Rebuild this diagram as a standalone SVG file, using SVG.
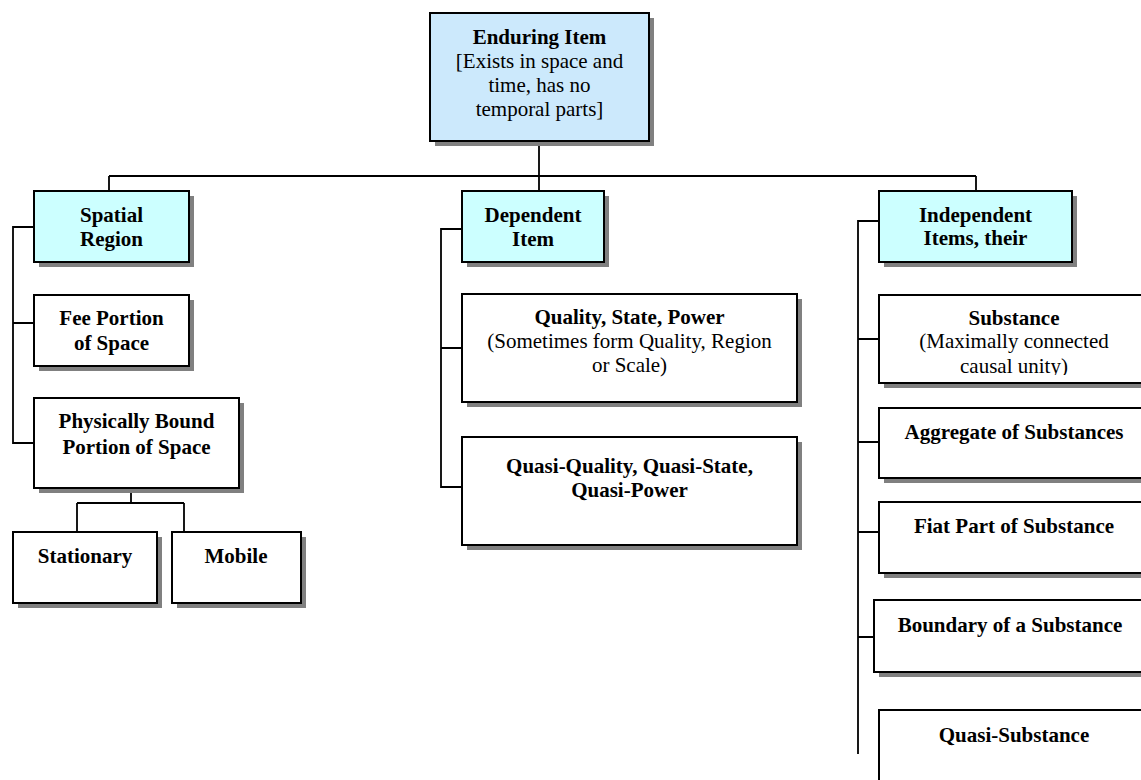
<svg xmlns="http://www.w3.org/2000/svg" width="1141" height="780" viewBox="0 0 1141 780">
<style>
.box{stroke:#000;stroke-width:2;fill:#fff}
.top{fill:#CCE9FC}
.cyan{fill:#CCFFFF}
.sh{fill:#808080}
.ln{stroke:#000;stroke-width:1.8;fill:none}
text{font-family:"Liberation Serif","Times New Roman",serif;font-size:21px;text-anchor:middle;fill:#000}
.b{font-weight:bold}
</style>
<defs>
<clipPath id="clipSub"><rect x="879" y="295" width="270" height="80"/></clipPath>
</defs>
<rect width="1141" height="780" fill="#fff"/>
<g id="connectors">
<path class="ln" d="M539 141V176M109 176H976M109 176V191M539 176V191M976 176V191"/>
<path class="ln" d="M34 227H13V443H34M13 323H34"/>
<path class="ln" d="M131 488V503M77 503H184M77 503V532M184 503V532"/>
<path class="ln" d="M462 229H441V487H462M441 348H462"/>
<path class="ln" d="M879 221H858V754M858 339H879M858 442H879M858 532H879M858 637H874"/>
</g>
<g id="enduring-item">
<rect class="sh" x="435" y="18" width="219" height="128"/>
<rect class="box top" x="430" y="13" width="219" height="128"/>
<text class="b" x="539.5" y="44">Enduring Item</text>
<text x="539.5" y="68">[Exists in space and</text>
<text x="539.5" y="92">time, has no</text>
<text x="539.5" y="116">temporal parts]</text>
</g>
<g id="spatial-region">
<rect class="sh" x="39" y="196" width="155" height="71"/>
<rect class="box cyan" x="34" y="191" width="155" height="71"/>
<text class="b" x="111.5" y="222">Spatial</text>
<text class="b" x="111.5" y="246">Region</text>
</g>
<g id="fee-portion">
<rect class="sh" x="39" y="300" width="155" height="71"/>
<rect class="box" x="34" y="295" width="155" height="71"/>
<text class="b" x="111.5" y="325">Fee Portion</text>
<text class="b" x="111.5" y="350">of Space</text>
</g>
<g id="physically-bound">
<rect class="sh" x="39" y="403" width="205" height="90"/>
<rect class="box" x="34" y="398" width="205" height="90"/>
<text class="b" x="136.5" y="428">Physically Bound</text>
<text class="b" x="136.5" y="454">Portion of Space</text>
</g>
<g id="stationary">
<rect class="sh" x="18" y="537" width="144" height="71"/>
<rect class="box" x="13" y="532" width="144" height="71"/>
<text class="b" x="85" y="563">Stationary</text>
</g>
<g id="mobile">
<rect class="sh" x="177" y="537" width="129" height="71"/>
<rect class="box" x="172" y="532" width="129" height="71"/>
<text class="b" x="236" y="563">Mobile</text>
</g>
<g id="dependent-item">
<rect class="sh" x="467" y="196" width="142" height="71"/>
<rect class="box cyan" x="462" y="191" width="142" height="71"/>
<text class="b" x="533" y="222">Dependent</text>
<text class="b" x="533" y="246">Item</text>
</g>
<g id="quality">
<rect class="sh" x="467" y="299" width="335" height="108"/>
<rect class="box" x="462" y="294" width="335" height="108"/>
<text class="b" x="629.5" y="324">Quality, State, Power</text>
<text x="629.5" y="348">(Sometimes form Quality, Region</text>
<text x="629.5" y="372">or Scale)</text>
</g>
<g id="quasi-quality">
<rect class="sh" x="467" y="442" width="335" height="108"/>
<rect class="box" x="462" y="437" width="335" height="108"/>
<text class="b" x="629.5" y="473">Quasi-Quality, Quasi-State,</text>
<text class="b" x="629.5" y="497">Quasi-Power</text>
</g>
<g id="independent-items">
<rect class="sh" x="884" y="196" width="193" height="71"/>
<rect class="box cyan" x="879" y="191" width="193" height="71"/>
<text class="b" x="975.5" y="222">Independent</text>
<text class="b" x="975.5" y="245">Items, their</text>
</g>
<g id="substance">
<rect class="sh" x="884" y="300" width="270" height="88"/>
<rect class="box" x="879" y="295" width="270" height="88"/>
<text class="b" x="1014" y="325">Substance</text>
<text x="1014" y="348">(Maximally connected</text>
<text x="1014" y="373" clip-path="url(#clipSub)">causal unity)</text>
</g>
<g id="aggregate">
<rect class="sh" x="884" y="413" width="270" height="70"/>
<rect class="box" x="879" y="408" width="270" height="70"/>
<text class="b" x="1014" y="439">Aggregate of Substances</text>
</g>
<g id="fiat-part">
<rect class="sh" x="884" y="507" width="270" height="71"/>
<rect class="box" x="879" y="502" width="270" height="71"/>
<text class="b" x="1014" y="533">Fiat Part of Substance</text>
</g>
<g id="boundary">
<rect class="sh" x="879" y="605" width="270" height="72"/>
<rect class="box" x="874" y="600" width="270" height="72"/>
<text class="b" x="1010" y="632">Boundary of a Substance</text>
</g>
<g id="quasi-substance">
<rect class="box" x="879" y="710" width="270" height="90"/>
<text class="b" x="1014" y="742">Quasi-Substance</text>
</g>
</svg>
